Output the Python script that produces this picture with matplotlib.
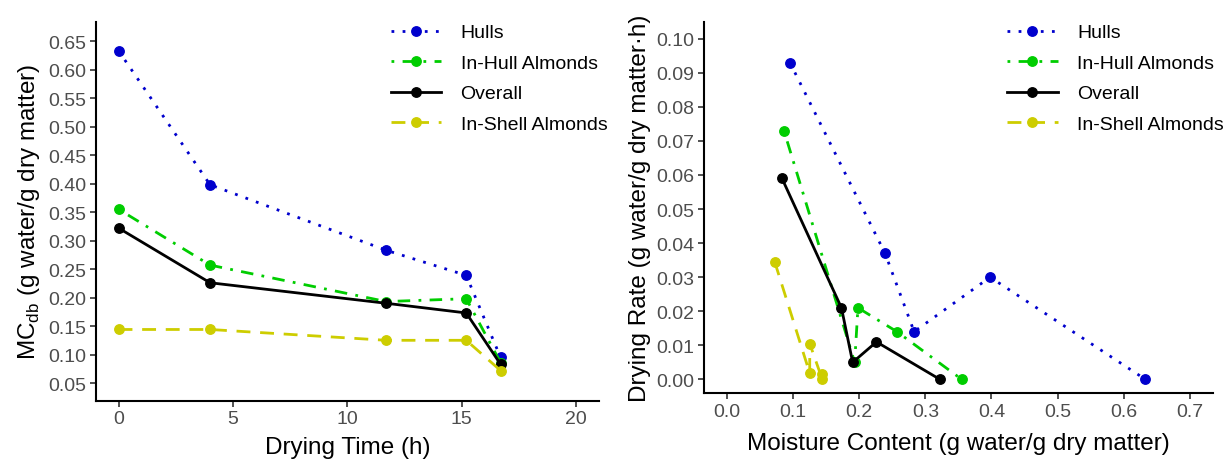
import numpy as np
import matplotlib.pyplot as plt

plt.rcParams['font.family'] = ['Liberation Sans', 'DejaVu Sans']

# Drying time (h) and moisture content (g water/g dry matter)
time_h = [0, 4, 11.7, 15.2, 16.7]
mc_hulls = [0.633, 0.398, 0.283, 0.239, 0.095]
mc_inhull = [0.355, 0.257, 0.193, 0.198, 0.086]
mc_overall = [0.322, 0.226, 0.190, 0.173, 0.083]
mc_inshell = [0.144, 0.144, 0.125, 0.125, 0.072]

# Drying rate (g water/g dry matter.h) at each moisture content
rate_hulls = [0.0, 0.030, 0.014, 0.037, 0.093]
rate_inhull = [0.0, 0.014, 0.005, 0.021, 0.073]
rate_overall = [0.0, 0.011, 0.005, 0.021, 0.059]
rate_inshell = [0.0, 0.0015, 0.0018, 0.0105, 0.0345]

labels = ["Hulls", "In-Hull Almonds", "Overall", "In-Shell Almonds"]
colors = ["#0000CD", "#00CD00", "#000000", "#CDCD00"]
dashes = [(1, 3), (1, 3, 4.5, 3), (), (5, 3.5)]

mc_series = [mc_hulls, mc_inhull, mc_overall, mc_inshell]
rate_series = [rate_hulls, rate_inhull, rate_overall, rate_inshell]

fig = plt.figure(figsize=(12.28, 4.6), dpi=100)
ax1 = fig.add_axes([0.0779, 0.1267, 0.4098, 0.8239])
ax2 = fig.add_axes([0.5733, 0.1435, 0.4143, 0.8072])


def draw(ax, xs_list, ys_list):
    for xs, ys, lab, c, d in zip(xs_list, ys_list, labels, colors, dashes):
        # geom_line style: connect points sorted by x
        order = np.lexsort((ys, xs))
        xs = np.asarray(xs)[order]
        ys = np.asarray(ys)[order]
        ls = '-' if not d else (0, d)
        ax.plot(xs, ys, color=c, lw=2.0, linestyle=ls, marker='o', ms=6.8,
                dash_capstyle='butt', label=lab)


draw(ax1, [time_h] * 4, mc_series)
draw(ax2, mc_series, rate_series)

ax1.set_xlim(-1, 21)
ax1.set_ylim(0.019, 0.684)
ax1.set_xticks([0, 5, 10, 15, 20])
ax1.set_yticks(np.arange(0.05, 0.651, 0.05))
ax1.yaxis.set_major_formatter(plt.FormatStrFormatter('%.2f'))
ax1.set_xlabel("Drying Time (h)", fontsize=17.5, labelpad=6)
ax1.set_ylabel(r"MC$_{\mathregular{db}}$ (g water/g dry matter)", fontsize=17.5, labelpad=4)

ax2.set_xlim(-0.035, 0.735)
ax2.set_ylim(-0.004, 0.105)
ax2.set_xticks(np.arange(0, 0.71, 0.1))
ax2.set_yticks(np.arange(0, 0.101, 0.01))
ax2.xaxis.set_major_formatter(plt.FormatStrFormatter('%.1f'))
ax2.yaxis.set_major_formatter(plt.FormatStrFormatter('%.2f'))
ax2.set_xlabel("Moisture Content (g water/g dry matter)", fontsize=17.5, labelpad=9)
ax2.set_ylabel("Drying Rate (g water/g dry matter\u00b7h)", fontsize=17.5, labelpad=4)

# legend anchors (figure fraction, upper-left corner of the legend)
legend_pos = {ax1: (0.318, 0.946), ax2: (0.820, 0.946)}

for ax in (ax1, ax2):
    ax.spines['top'].set_visible(False)
    ax.spines['right'].set_visible(False)
    ax.spines['left'].set_linewidth(1.5)
    ax.spines['bottom'].set_linewidth(1.5)
    ax.tick_params(axis='both', length=4, width=1.2, color='#333333',
                   labelsize=14, labelcolor='#4D4D4D', pad=3)
    ax.legend(loc='upper left', bbox_to_anchor=legend_pos[ax],
              bbox_transform=fig.transFigure, frameon=False, borderpad=0,
              borderaxespad=0, fontsize=14, handlelength=2.6,
              handletextpad=1.0, labelspacing=0.66)

plt.savefig("out.png", dpi=100)
